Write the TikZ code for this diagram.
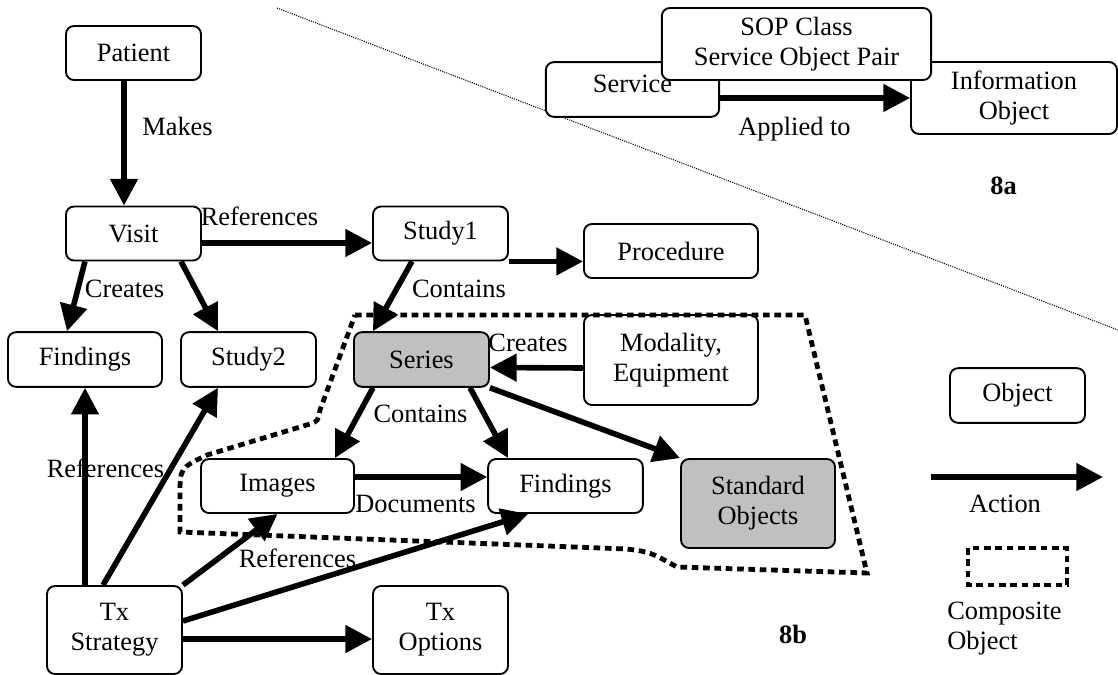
\documentclass[tikz,border=0pt]{standalone}
\usepackage{fontspec}
\setmainfont{Liberation Serif}
\usetikzlibrary{arrows.meta}
\definecolor{shade}{HTML}{C0C0C0}
\begin{document}
\begin{tikzpicture}[x=0.75pt, y=-0.75pt,
  obj/.style={draw, line width=1.4pt, rounded corners=6pt, fill=white, align=center,
    inner sep=0pt, minimum width=101.25pt, minimum height=40.5pt,
    font=\fontsize{19.8}{22.5}\selectfont},
  lbl/.style={anchor=base, inner sep=0pt, font=\fontsize{19.8}{22.5}\selectfont},
  act/.style={line width=4.2pt, -{Triangle[length=20pt, width=20pt]}},
  grp/.style={line width=3.6pt, dash pattern=on 5pt off 3.5pt},
  sep/.style={line width=0.8pt, dash pattern=on 0.8pt off 0.9pt}]
\useasboundingbox (0,0) rectangle (1118,675);
% divider between 8a and 8b
\coordinate (diaga) at (277,8);
\coordinate (diagb) at (1118,330);
\draw[sep] (diaga) -- (diagb);

% connector labels
\node[lbl] (lmakes) at (177.5,135) {Makes};
\node[lbl] (lref1) at (259.5,225) {References};
\node[lbl] (lcre1) at (124.5,297) {Creates};
\node[lbl] (lcon1) at (459,297) {Contains};
\node[lbl] (lcre2) at (528,351) {Creates};
\node[lbl] (lcon2) at (420.5,422) {Contains};
\node[lbl] (lref2) at (105.5,477) {References};
\node[lbl] (ldoc) at (415.5,512) {Documents};
\node[lbl] (lref3) at (297.5,567) {References};
\node[lbl] (lapp) at (794.5,135) {Applied to};
\node[lbl, font=\fontsize{19.8}{22.5}\selectfont\bfseries] (l8a) at (1003.5,194) {8a};
\node[lbl, font=\fontsize{19.8}{22.5}\selectfont\bfseries] (l8b) at (793,643) {8b};
\node[lbl] (lact) at (1005,512) {Action};
\node[lbl, anchor=west, align=left] (lcomp) at (947,629) {Composite\\Object};

% objects
\node[obj] (pat) at (133.5,53) {Patient};
\node[obj] (vis) at (133.5,233.5) {Visit};
\node[obj] (st1) at (440.5,233.5) {Study1};
\node[obj, minimum width=130.5pt] (proc) at (671,251) {Procedure};
\node[obj, minimum width=115.5pt, minimum height=41pt] (findl) at (85,359.5) {Findings};
\node[obj, minimum height=41pt] (st2) at (248.5,359.5) {Study2};
\node[obj, minimum height=41pt, fill=shade] (ser) at (421.5,359.5) {Series};
\node[obj, minimum width=130.5pt, minimum height=67.5pt] (mod) at (671,360) {Modality,\\Equipment};
\node[obj, minimum width=114.75pt] (img) at (277.5,486) {Images};
\node[obj, minimum width=116pt] (findm) at (565.5,486) {Findings};
\node[obj, minimum width=115.5pt, minimum height=66.75pt, fill=shade] (std) at (758,503.5) {Standard\\Objects};
\node[obj, minimum height=66pt] (txs) at (114.5,630) {Tx\\Strategy};
\node[obj, minimum height=66pt] (txo) at (440.5,630) {Tx\\Options};
\node[obj, minimum width=130pt, minimum height=41pt] (svc) at (632.5,89.5) {};
\node[obj, minimum width=154.5pt, minimum height=54pt] (info) at (1014,98) {Information\\Object};
\node[obj, minimum width=202pt, minimum height=54pt] (sop) at (796.5,44) {SOP Class\\Service Object Pair};
\node[lbl] (svctxt) at (632.5,92) {Service};
\node[obj, minimum height=41pt] (legobj) at (1017.5,395.5) {Object};

% composite object outline
\draw[grp] (355,315) -- (805,315) -- (867,573) -- (677,567)
  .. controls (650,552) .. (627,549) -- (180,532) -- (180,495)
  .. controls (180,468) .. (207,455) -- (310,424)
  .. controls (318,421) .. (320,410) -- cycle;
\draw[grp] (968,548) rectangle (1067,585);

% actions
\draw[act] ([xshift=-7.1pt]pat.south) -- ([xshift=-7.1pt]vis.north);
\draw[act] ([yshift=-7.1pt]vis.east) -- ([yshift=-7.1pt]st1.west);
\draw[act] ([xshift=-36.4pt]vis.south) -- ([xshift=-13.5pt]findl.north);
\draw[act] ([xshift=35.6pt]vis.south) -- ([xshift=-22.9pt]st2.north);
\draw[act] ([xshift=-21.4pt]st1.south) -- ([xshift=-36.4pt]ser.north);
\draw[act] (st1.south east) -- (st1.south east -| proc.west);
\draw[act] ([yshift=-6pt]mod.west) -- ([yshift=-6pt]ser.east);
\draw[act] ([xshift=-36.4pt]ser.south) -- ([xshift=43.1pt]img.north);
\draw[act] ([xshift=36.4pt]ser.south) -- ([xshift=-43.1pt]findm.north);
\draw[act] (ser.south east) -- (std.north west);
\draw[act] ([yshift=6.75pt]img.east) -- ([yshift=6.75pt]findm.west);
\draw[act] (txs.north -| findl.south) -- (findl.south);
\draw[act] ([xshift=-8.6pt]txs.north) -- ([xshift=-22.9pt]st2.south);
\draw[act] (txs.north east) -- (img.south);
\draw[act] ([yshift=6.75pt]txs.east) -- ([xshift=-28pt]findm.south);
\draw[act] ([yshift=-6.75pt]txs.east) -- ([yshift=-6.75pt]txo.west);
\draw[act] (svc.east |- info.west) -- (info.west);
\coordinate (acta) at (931,477);
\coordinate (actb) at (1103,477);
\draw[act] (acta) -- (actb);
\end{tikzpicture}
\end{document}
